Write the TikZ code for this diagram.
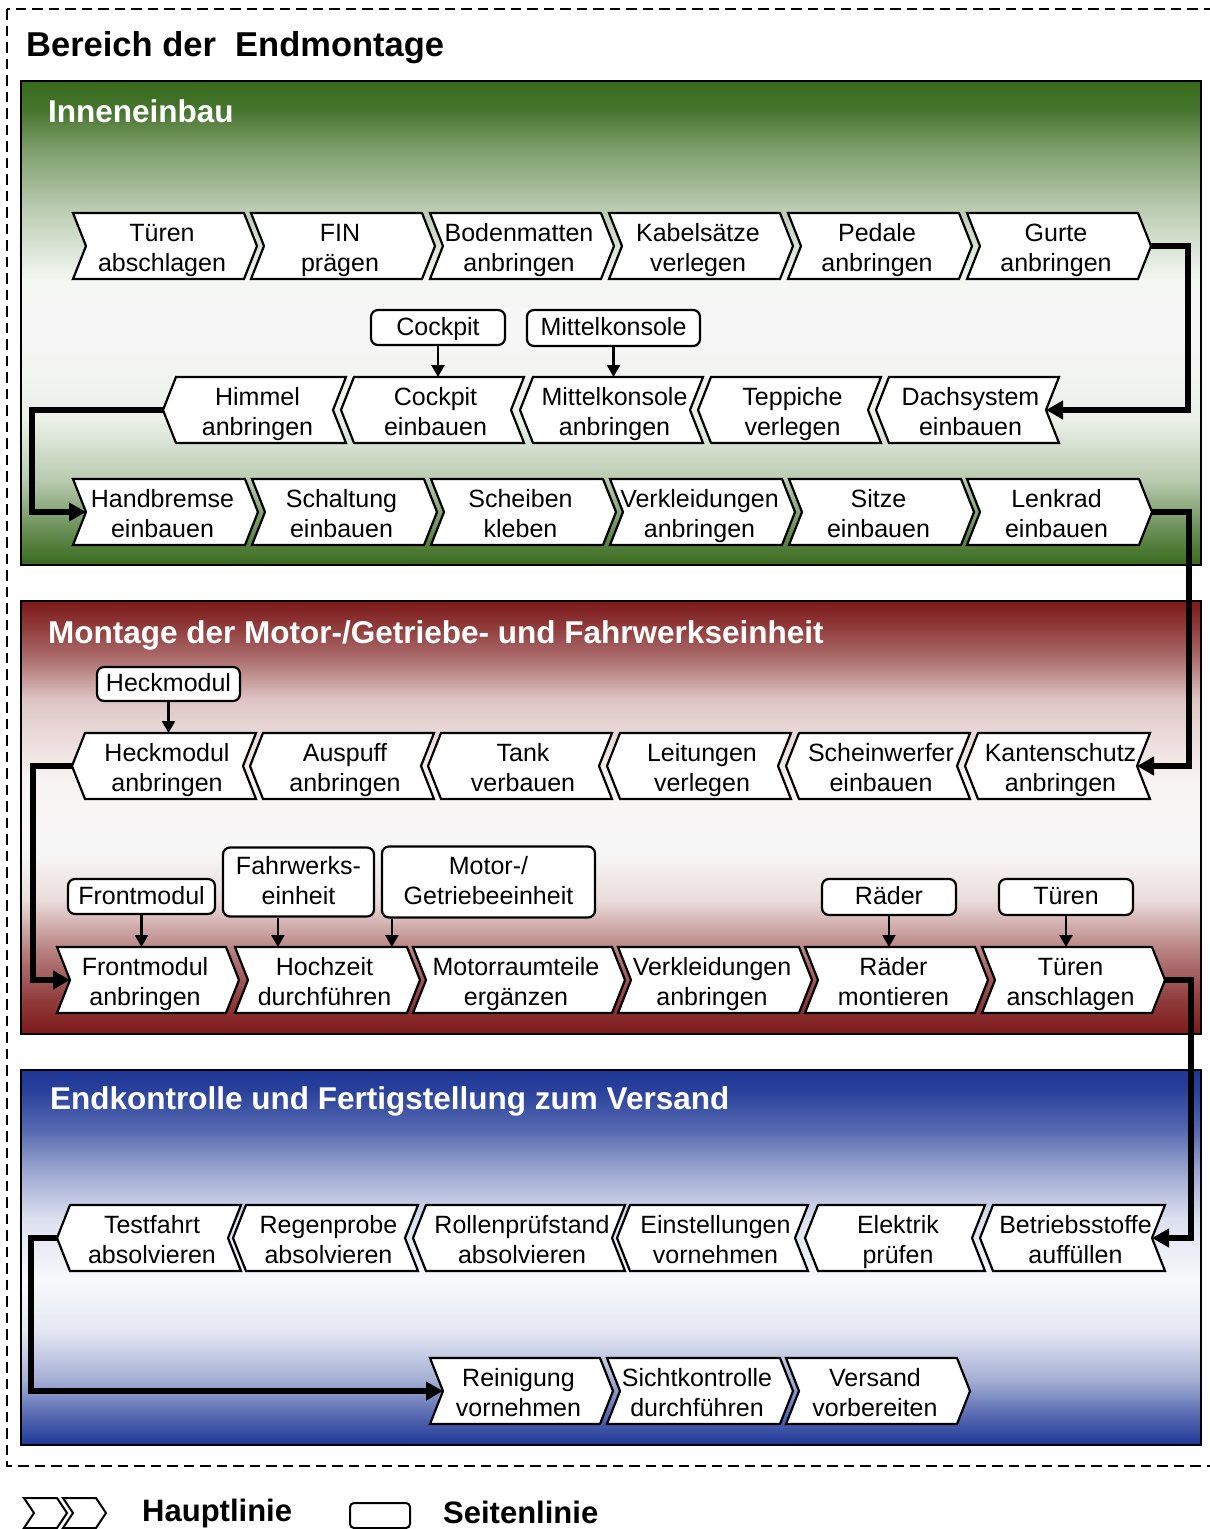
\documentclass[tikz,border=0pt]{standalone}
\usepackage{fontspec}
\setmainfont{Liberation Sans}
\usetikzlibrary{arrows.meta,calc}

\definecolor{grn}{RGB}{55,105,28}
\definecolor{rd}{RGB}{125,25,25}
\definecolor{bl}{RGB}{30,55,150}

% background bands of the three areas (dark at the edges, light in the middle)
\pgfdeclareverticalshading{greenband}{100bp}{%
 color(0bp)=(grn); color(25bp)=(grn); color(28.6bp)=(grn!75!white);
 color(33.8bp)=(grn!35!white); color(40bp)=(grn!10!white);
 color(49bp)=(white!97!black); color(54.4bp)=(grn!5!white);
 color(62bp)=(grn!35!white); color(68bp)=(grn!65!white);
 color(72bp)=(grn!92!white); color(75bp)=(grn); color(100bp)=(grn)}
\pgfdeclareverticalshading{redband}{100bp}{%
 color(0bp)=(rd); color(25bp)=(rd); color(28.9bp)=(rd!85!white);
 color(34.7bp)=(rd!55!white); color(40.5bp)=(rd!15!white);
 color(46.2bp)=(white!97!black); color(54.3bp)=(rd!5!white);
 color(63.6bp)=(rd!25!white); color(68.2bp)=(rd!62!white);
 color(72bp)=(rd!85!white); color(75bp)=(rd); color(100bp)=(rd)}
\pgfdeclareverticalshading{blueband}{100bp}{%
 color(0bp)=(bl); color(25bp)=(bl); color(29.7bp)=(bl!70!white);
 color(33.7bp)=(bl!40!white); color(40.3bp)=(bl!12!white);
 color(47bp)=(bl!3!white); color(55bp)=(bl!15!white);
 color(61.7bp)=(bl!45!white); color(67bp)=(bl!75!white);
 color(72.3bp)=(bl!95!white); color(75bp)=(bl); color(100bp)=(bl)}

\newcommand\ls{\rule[-7pt]{0pt}{29pt}}

\tikzset{
  chevline/.style={draw=black, line width=2.2pt, fill=white, line join=miter},
  chevtext/.style={font=\fontsize{25}{30}\selectfont, align=center, inner sep=0pt},
  sidebox/.style={draw=black, line width=2.2pt, fill=white, rounded corners=7pt,
    font=\fontsize{25}{30}\selectfont, align=center, inner sep=0pt},
  flow/.style={line width=5.5pt, -{Triangle[length=17pt,width=18pt]}, line join=miter},
  feed/.style={line width=2.4pt, -{Triangle[length=12pt,width=13pt]}},
  sectitle/.style={text=white, font=\fontsize{31.5}{36}\selectfont\bfseries,
    anchor=base west, inner sep=0pt},
  areabox/.style={draw=black, line width=2.5pt},
}

% right-pointing step: name, left x, tip x, middle y, line 1, line 2
\newcommand\chevR[6]{%
  \draw[chevline] (#2,#4-33) -- (#3-13,#4-33) -- (#3,#4) -- (#3-13,#4+33)
     -- (#2,#4+33) -- (#2+13,#4) -- cycle;
  \node[chevtext] (#1) at ({(#2+#3)/2-3},#4+2.5) {\ls#5\\\ls#6};
  \coordinate (#1-tip) at (#3,#4);
  \coordinate (#1-notch) at (#2+13,#4);
  \coordinate (#1-top) at ({(#2+#3)/2},#4-33);
}
% left-pointing step: name, tip x, right x, middle y, line 1, line 2
\newcommand\chevL[6]{%
  \draw[chevline] (#2,#4) -- (#2+13,#4-33) -- (#3,#4-33) -- (#3-13,#4)
     -- (#3,#4+33) -- (#2+13,#4+33) -- cycle;
  \node[chevtext] (#1) at ({(#2+#3)/2+3},#4+2.5) {\ls#5\\\ls#6};
  \coordinate (#1-tip) at (#2,#4);
  \coordinate (#1-notch) at (#3-13,#4);
  \coordinate (#1-top) at ({(#2+#3)/2},#4-33);
}

\begin{document}
\begin{tikzpicture}[x=1pt,y=-1pt]
\useasboundingbox (0,0) rectangle (1210,1529);

% outer frame and heading
\draw[line width=2pt, dash pattern=on 10.5pt off 6pt] (7,9) rectangle (1216,1466);
\node[anchor=base west, inner sep=0pt, font=\fontsize{34.5}{40}\selectfont\bfseries]
  (head) at (26,56) {Bereich der\ \ Endmontage};

% the three areas
\shadedraw[areabox, shading=greenband] (21,81) rectangle (1201,565);
\shadedraw[areabox, shading=redband] (21,601) rectangle (1201,1034);
\shadedraw[areabox, shading=blueband] (21,1070) rectangle (1201,1445);
\node[sectitle] (s1) at (48,122) {Inneneinbau};
\node[sectitle] (s2) at (48,643) {Montage der Motor-/Getriebe- und Fahrwerkseinheit};
\node[sectitle] (s3) at (50,1109) {Endkontrolle und Fertigstellung zum Versand};

% ---- Inneneinbau
\chevR{tab}{73}{257}{246}{Türen}{abschlagen}
\chevR{fin}{251}{435}{246}{FIN}{prägen}
\chevR{boden}{430}{614}{246}{Bodenmatten}{anbringen}
\chevR{kabel}{609}{793}{246}{Kabelsätze}{verlegen}
\chevR{pedale}{788}{972}{246}{Pedale}{anbringen}
\chevR{gurte}{967}{1151}{246}{Gurte}{anbringen}

\chevL{himmel}{163}{346}{410}{Himmel}{anbringen}
\chevL{cockpitE}{341}{524}{410}{Cockpit}{einbauen}
\chevL{mkE}{520}{703}{410}{Mittelkonsole}{anbringen}
\chevL{teppich}{698}{881}{410}{Teppiche}{verlegen}
\chevL{dach}{876}{1059}{410}{Dachsystem}{einbauen}

\chevR{hand}{73}{258}{512}{Handbremse}{einbauen}
\chevR{schalt}{252}{437}{512}{Schaltung}{einbauen}
\chevR{scheiben}{431}{616}{512}{Scheiben}{kleben}
\chevR{verklA}{610}{795}{512}{Verkleidungen}{anbringen}
\chevR{sitze}{789}{974}{512}{Sitze}{einbauen}
\chevR{lenkrad}{967}{1152}{512}{Lenkrad}{einbauen}

\node[sidebox, minimum width=134pt, minimum height=35pt] (sbCockpit) at (438,327.5) {\ls Cockpit};
\node[sidebox, minimum width=173pt, minimum height=36pt] (sbMittel) at (613.5,328) {\ls Mittelkonsole};
\draw[feed] (sbCockpit.south) -- (sbCockpit.south |- cockpitE-top);
\draw[feed] (sbMittel.south) -- (sbMittel.south |- mkE-top);

% ---- Motor-/Getriebe- und Fahrwerkseinheit
\chevL{heckA}{72}{256}{766}{Heckmodul}{anbringen}
\chevL{auspuff}{250}{434}{766}{Auspuff}{anbringen}
\chevL{tank}{428}{612}{766}{Tank}{verbauen}
\chevL{leitung}{607}{791}{766}{Leitungen}{verlegen}
\chevL{schein}{786}{970}{766}{Scheinwerfer}{einbauen}
\chevL{kanten}{965}{1150}{766}{Kantenschutz}{anbringen}

\chevR{frontA}{57}{239}{980}{Frontmodul}{anbringen}
\chevR{hochzeit}{235}{420}{980}{Hochzeit}{durchführen}
\chevR{motorr}{413}{625}{980}{Motorraumteile}{ergänzen}
\chevR{verklB}{618}{812}{980}{Verkleidungen}{anbringen}
\chevR{raeder}{805}{988}{980}{Räder}{montieren}
\chevR{tuerenA}{982}{1165}{980}{Türen}{anschlagen}

\node[sidebox, minimum width=143pt, minimum height=34pt] (sbHeck) at (168.5,684) {\ls Heckmodul};
\node[sidebox, minimum width=147pt, minimum height=35pt] (sbFront) at (141.5,896.5) {\ls Frontmodul};
\node[sidebox, minimum width=151pt, minimum height=69pt] (sbFahr) at (298.5,882) {\ls Fahrwerks-\\\ls einheit};
\node[sidebox, minimum width=213pt, minimum height=71pt] (sbMotor) at (488.5,882) {\ls Motor-/\\\ls Getriebeeinheit};
\node[sidebox, minimum width=134pt, minimum height=36pt] (sbRaeder) at (889,897) {\ls Räder};
\node[sidebox, minimum width=134pt, minimum height=36pt] (sbTueren) at (1066,897) {\ls Türen};
\draw[feed] (sbHeck.south) -- (sbHeck.south |- heckA-top);
\draw[feed] (sbFront.south) -- (sbFront.south |- frontA-top);
\coordinate (fahrOut) at ([xshift=56pt]sbFahr.south west);
\draw[feed] (fahrOut) -- (fahrOut |- hochzeit-top);
\coordinate (motorOut) at ([xshift=11pt]sbMotor.south west);
\draw[feed] (motorOut) -- (motorOut |- hochzeit-top);
\draw[feed] (sbRaeder.south) -- (sbRaeder.south |- raeder-top);
\draw[feed] (sbTueren.south) -- (sbTueren.south |- tuerenA-top);

% ---- Endkontrolle
\chevL{test}{57}{241}{1238}{Testfahrt}{absolvieren}
\chevL{regen}{233}{418}{1238}{Regenprobe}{absolvieren}
\chevL{rollen}{413}{625}{1238}{Rollenprüfstand}{absolvieren}
\chevL{einst}{617}{808}{1238}{Einstellungen}{vornehmen}
\chevL{elektrik}{805}{985}{1238}{Elektrik}{prüfen}
\chevL{betrieb}{980}{1165}{1238}{Betriebsstoffe}{auffüllen}

\chevR{rein}{430}{613}{1391}{Reinigung}{vornehmen}
\chevR{sicht}{607}{793}{1391}{Sichtkontrolle}{durchführen}
\chevR{versand}{786}{970}{1391}{Versand}{vorbereiten}

% ---- main line between the rows
\draw[flow] (gurte-tip) -- ++(37,0) |- (dach-notch);
\draw[flow] (himmel-tip) -- ++(-131,0) |- (hand-notch);
\draw[flow] (lenkrad-tip) -- ++(37,0) |- (kanten-notch);
\draw[flow] (heckA-tip) -- ++(-39,0) |- (frontA-notch);
\draw[flow] (tuerenA-tip) -- ++(26,0) |- (betrieb-notch);
\draw[flow] (test-tip) -- ++(-26,0) |- (rein-notch);

% ---- legend
\draw[line width=2pt, fill=white] (24,1498) -- (57,1498) -- (67,1513) -- (57,1528)
  -- (24,1528) -- (34,1513) -- cycle;
\draw[line width=2pt, fill=white] (63,1498) -- (96,1498) -- (106,1513) -- (96,1528)
  -- (63,1528) -- (73,1513) -- cycle;
\node[anchor=base west, inner sep=0pt, font=\fontsize{31}{36}\selectfont\bfseries]
  (lgMain) at (142,1521) {Hauptlinie};
\draw[line width=2pt, rounded corners=4pt] (350,1503) rectangle (410,1528);
\node[anchor=base west, inner sep=0pt, font=\fontsize{31}{36}\selectfont\bfseries]
  (lgSide) at (443,1523) {Seitenlinie};
\end{tikzpicture}
\end{document}
